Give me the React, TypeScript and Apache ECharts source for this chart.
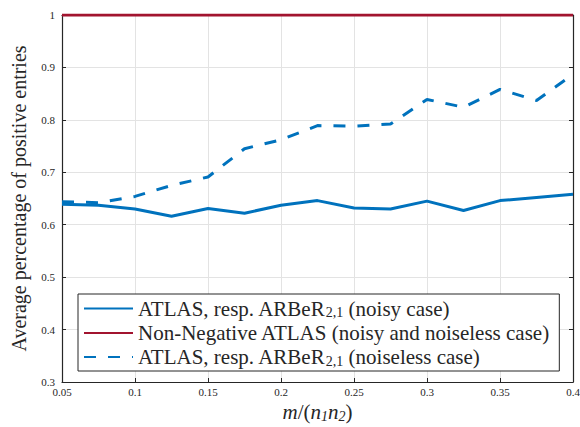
import React, { useEffect, useRef } from "react";
import * as echarts from "echarts";

const xValues = [0.05, 0.075, 0.1, 0.125, 0.15, 0.175, 0.2, 0.225, 0.25, 0.275, 0.3, 0.325, 0.35, 0.375, 0.4];
const noisy = [0.639, 0.637, 0.63, 0.616, 0.631, 0.622, 0.637, 0.646, 0.632, 0.63, 0.645, 0.627, 0.646, 0.652, 0.658];
const nonNeg = [1, 1, 1, 1, 1, 1, 1, 1, 1, 1, 1, 1, 1, 1, 1];
const noiseless = [0.644, 0.642, 0.654, 0.675, 0.691, 0.745, 0.762, 0.789, 0.788, 0.792, 0.839, 0.824, 0.858, 0.837, 0.887];

const seriesNames = ["noisy", "nonneg", "noiseless"];
const legendLabels: Record<string, string> = {
  noisy: "ATLAS, resp. ARBeR{sub|2,1} (noisy case)",
  nonneg: "Non-Negative ATLAS (noisy and noiseless case)",
  noiseless: "ATLAS, resp. ARBeR{sub|2,1} (noiseless case)",
};

const SERIF = "Liberation Serif";
const BLUE = "#0072BD";
const RED = "#A2142F";
const INK = "#262626";

export default function App() {
  const ref = useRef<HTMLDivElement>(null);
  useEffect(() => {
    if (!ref.current) return;
    const chart = echarts.init(ref.current, null, { renderer: "svg" });
    const pair = (ys: number[]) => xValues.map((x, i) => [x, ys[i]]);
    const tickStyle = { show: true, inside: true, length: 4, lineStyle: { color: INK, width: 1 } };
    chart.setOption({
      animation: false,
      backgroundColor: "#fff",
      grid: { left: 62, right: 7, top: 15, bottom: 45, containLabel: false, outerBoundsMode: "none" },
      xAxis: [
        {
          type: "value",
          min: 0.05,
          max: 0.4,
          interval: 0.05,
          axisLine: { show: true, onZero: false, lineStyle: { color: INK, width: 1.2 } },
          axisTick: tickStyle,
          axisLabel: { color: INK, fontFamily: SERIF, fontSize: 11, margin: 4 },
          splitLine: { show: true, lineStyle: { color: "#e3e3e3", width: 1 } },
          name: "{i|m}/({i|n}{sub|1}{i|n}{sub|2})",
          nameLocation: "middle",
          nameGap: 14,
          nameTextStyle: {
            fontFamily: SERIF,
            fontSize: 21,
            color: INK,
            rich: {
              i: { fontFamily: SERIF, fontSize: 21, fontStyle: "italic", color: INK },
              sub: { fontFamily: SERIF, fontSize: 14, fontStyle: "italic", color: INK, verticalAlign: "bottom", padding: [8, 0, 0, 0] },
            },
          },
        },
        {
          type: "value",
          position: "top",
          min: 0.05,
          max: 0.4,
          interval: 0.05,
          axisLine: { show: true, onZero: false, lineStyle: { color: INK, width: 1.2 } },
          axisTick: { show: false },
          axisLabel: { show: false },
          splitLine: { show: false },
        },
      ],
      yAxis: [
        {
          type: "value",
          min: 0.3,
          max: 1,
          interval: 0.1,
          axisLine: { show: true, onZero: false, lineStyle: { color: INK, width: 1.2 } },
          axisTick: tickStyle,
          axisLabel: { color: INK, fontFamily: SERIF, fontSize: 11, margin: 7 },
          splitLine: { show: true, lineStyle: { color: "#e3e3e3", width: 1 } },
          name: "Average percentage of positive entries",
          nameLocation: "middle",
          nameGap: 33,
          nameTextStyle: { fontFamily: SERIF, fontSize: 20, color: INK },
        },
        {
          type: "value",
          position: "right",
          min: 0.3,
          max: 1,
          interval: 0.1,
          axisLine: { show: true, onZero: false, lineStyle: { color: INK, width: 1.2 } },
          axisTick: tickStyle,
          axisLabel: { show: false },
          splitLine: { show: false },
        },
      ],
      legend: {
        show: true,
        data: seriesNames,
        orient: "vertical",
        left: 78,
        top: 294,
        padding: [4, 9, 3, 5],
        itemGap: 3,
        itemWidth: 49,
        itemHeight: 21,
        itemTextGap: 5,
        backgroundColor: "#fff",
        borderColor: INK,
        borderWidth: 1,
        borderRadius: 0,
        itemStyle: { opacity: 0 },
        formatter: (name: string) => legendLabels[name],
        textStyle: {
          fontFamily: SERIF,
          fontSize: 21,
          color: INK,
          rich: {
            sub: { fontFamily: SERIF, fontSize: 14, color: INK, verticalAlign: "bottom", padding: [8, 0, 0, 0] },
          },
        },
      },
      series: [
        {
          name: "noisy",
          type: "line",
          data: pair(noisy),
          showSymbol: false,
          symbol: "none",
          lineStyle: { color: BLUE, width: 3 },
          itemStyle: { color: BLUE },
          z: 3,
        },
        {
          name: "nonneg",
          type: "line",
          data: pair(nonNeg),
          showSymbol: false,
          symbol: "none",
          lineStyle: { color: RED, width: 3 },
          itemStyle: { color: RED },
          z: 4,
        },
        {
          name: "noiseless",
          type: "line",
          data: pair(noiseless),
          showSymbol: false,
          symbol: "none",
          lineStyle: { color: BLUE, width: 3, type: [12, 12] },
          itemStyle: { color: BLUE },
          z: 3,
        },
      ],
    });
    return () => chart.dispose();
  }, []);
  return <div ref={ref} style={{ width: 580, height: 427, position: "absolute", left: 0, top: 0 }} />;
}
